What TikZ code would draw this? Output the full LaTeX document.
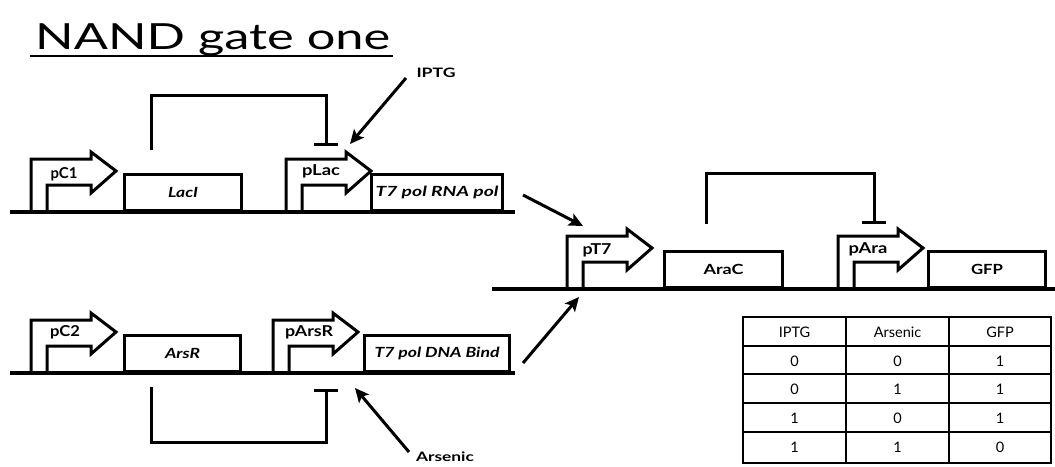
\documentclass[tikz,border=0pt]{standalone}
\usepackage{fontspec}
\setmainfont{Lato}
\usetikzlibrary{arrows.meta}
\newcommand\fw[2]{\resizebox{#1pt}{\height}{#2}}
\tikzset{
  promoter/.pic={
    \draw[line width=3pt,line join=miter] (0,0) -- (0,-53) -- (60,-53) -- (60,-60) -- (85,-41) -- (60,-19) -- (60,-27) -- (16,-27) -- (16,0);
  }
}
\begin{document}
\begin{tikzpicture}[x=1pt,y=-1pt,
  dna/.style={line width=3.5pt},
  gene/.style={draw,line width=3pt,anchor=south west,inner sep=0pt,minimum height=36pt,font=\bfseries\itshape\fontsize{14}{14}\selectfont},
  geneup/.style={gene,font=\bfseries\fontsize{14}{14}\selectfont},
  plabel/.style={font=\bfseries\fontsize{15}{15}\selectfont,inner sep=0pt},
  ilabel/.style={font=\bfseries\fontsize{13}{13}\selectfont,inner sep=0pt},
  act/.style={line width=3pt,-{Stealth[length=14pt,width=13pt,inset=3pt]}},
  rep/.style={line width=3pt,-{Bar[width=24pt]}},
  tab/.style={line width=1.5pt},
  cell/.style={font=\fontsize{14.5}{14.5}\selectfont,inner sep=0pt}
]
\useasboundingbox (0,0) rectangle (1055,466);

% title
\node[anchor=base west,inner sep=0pt,font=\fontsize{36}{36}\selectfont] (title) at (35,49) {\fw{355}{NAND gate one}};
\draw[line width=2pt] (30,56) -- (393,56);

% DNA lines
\draw[dna] (10,212) -- (515,212);
\draw[dna] (10,373) -- (515,373);
\draw[dna] (492,289) -- (1055,289);

% top row
\pic at (31,212) {promoter};
\node[plabel] (pC1) at (64,174) {\fw{27}{pC1}};
\node[gene,minimum width=117pt] (lacI) at (123,212) {\fw{30}{LacI}};
\pic at (286,212) {promoter};
\node[plabel] (pLac) at (321,171) {\fw{38}{pLac}};
\node[gene,minimum width=131pt] (t7rna) at (370,212) {\fw{123}{T7 pol RNA pol}};

% bottom row
\pic at (31,373) {promoter};
\node[plabel] (pC2) at (65,332) {\fw{30}{pC2}};
\node[gene,minimum width=116pt] (arsR) at (123,373) {\fw{35}{ArsR}};
\pic at (273,373) {promoter};
\node[plabel] (pArsR) at (309,332) {\fw{48}{pArsR}};
\node[gene,minimum width=145pt] (t7dna) at (363,373) {\fw{125}{T7 pol DNA Bind}};

% middle row
\pic at (567,289) {promoter};
\node[plabel] (pT7) at (597,250) {\fw{29}{pT7}};
\node[geneup,minimum width=118pt] (araC) at (663,289) {\fw{40}{AraC}};
\pic at (838,289) {promoter};
\node[plabel] (pAra) at (868,249) {\fw{39}{pAra}};
\node[geneup,minimum width=117pt] (gfp) at (927,289) {\fw{32}{GFP}};

% repression connectors
\coordinate (lacIout) at (151,150);
\coordinate (placRep) at (326,146);
\draw[rep] (lacIout) -- ++(0,-55) -| (placRep);
\coordinate (arsRout) at (151,387);
\coordinate (parsRep) at (326,389);
\draw[rep] (arsRout) -- ++(0,55) -| (parsRep);
\coordinate (araCout) at (706,224);
\coordinate (paraRep) at (874,224);
\draw[rep] (araCout) -- ++(0,-51) -| (paraRep);

% inducers
\node[ilabel] (iptg) at (436,73) {\fw{39}{IPTG}};
\node[ilabel] (arsenic) at (445,457) {\fw{58}{Arsenic}};
\coordinate (iptgTail) at (406,78);
\coordinate (placIn) at (350,144);
\draw[act] (iptgTail) -- (placIn);
\coordinate (arsTail) at (409,452);
\coordinate (parsIn) at (355,388);
\draw[act] (arsTail) -- (parsIn);

% T7 parts to pT7
\coordinate (rnaTail) at (523,195);
\coordinate (pT7inA) at (583,226);
\draw[act] (rnaTail) -- (pT7inA);
\coordinate (dnaTail) at (523,363);
\coordinate (pT7inB) at (579,297);
\draw[act] (dnaTail) -- (pT7inB);

% truth table
\draw[tab] (743,317) rectangle (1051,463);
\draw[tab] (846,317) -- (846,463);
\draw[tab] (949,317) -- (949,463);
\foreach \yy in {346,374,403,432} \draw[tab] (743,\yy) -- (1051,\yy);
\node[cell] (h1) at (794.5,332) {IPTG};
\node[cell] (h2) at (897.5,332) {Arsenic};
\node[cell] (h3) at (1000,332) {GFP};
\node[cell] (a1) at (794.5,361) {0};
\node[cell] (b1) at (897.5,361) {0};
\node[cell] (c1) at (1000,361) {1};
\node[cell] (a2) at (794.5,389) {0};
\node[cell] (b2) at (897.5,389) {1};
\node[cell] (c2) at (1000,389) {1};
\node[cell] (a3) at (794.5,418) {1};
\node[cell] (b3) at (897.5,418) {0};
\node[cell] (c3) at (1000,418) {1};
\node[cell] (a4) at (794.5,447.5) {1};
\node[cell] (b4) at (897.5,447.5) {1};
\node[cell] (c4) at (1000,447.5) {0};
\end{tikzpicture}
\end{document}
